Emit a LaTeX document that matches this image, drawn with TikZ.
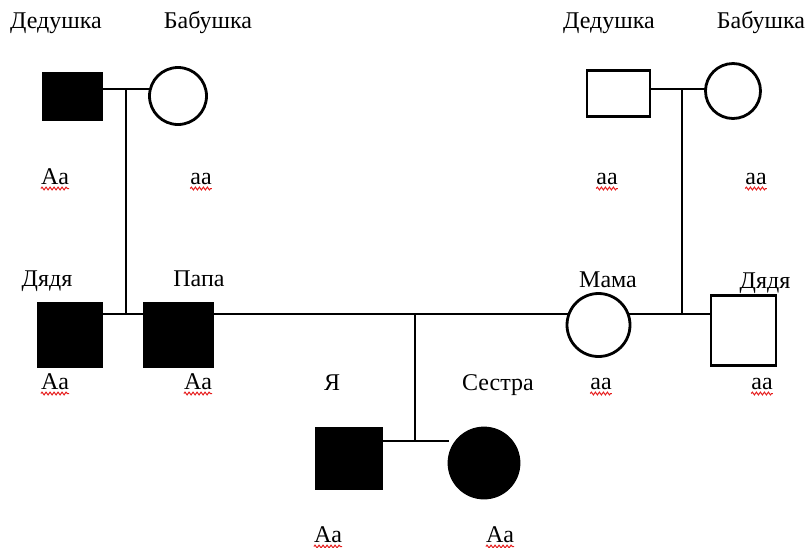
\documentclass[tikz,border=0pt]{standalone}
\usepackage{fontspec}
\setmainfont{Liberation Serif}
\usetikzlibrary{decorations.pathmorphing}
\definecolor{spellred}{RGB}{230,30,30}
\tikzset{
  person/.style={line width=2.8pt, inner sep=0pt, outer sep=0pt},
  male/.style={person, rectangle, draw=black},
  female/.style={person, circle, draw=black},
  affected/.style={fill=black},
  healthy/.style={fill=white},
  link/.style={line width=1.3pt, draw=black},
  lbl/.style={anchor=base, inner sep=0pt, font=\fontsize{24}{29}\selectfont},
  geno/.style={lbl},
  squiggle/.style={draw=spellred, line width=1pt,
    decorate, decoration={snake, segment length=4pt, amplitude=1.4pt}},
}
\newcommand{\wavyunder}[1]{%
  \draw[squiggle] ([yshift=-4.5pt]#1.base west) -- ([yshift=-4.5pt]#1.base east);}
\begin{document}
\begin{tikzpicture}[x=1pt, y=-1pt]
\useasboundingbox (0,0) rectangle (810,547);

% --- grandparents, father's side
\node[male, affected, minimum width=59pt, minimum height=47pt] (gpL) at (72.5,96.5) {};
\node[female, healthy, minimum size=57pt] (gmL) at (178,96) {};
% --- grandparents, mother's side
\node[male, healthy, minimum width=63pt, minimum height=46pt] (gpR) at (618.5,93.5) {};
\node[female, healthy, minimum size=55pt] (gmR) at (733,91) {};

% --- parents' generation
\node[male, affected, minimum width=64pt, minimum height=63pt] (uncleL) at (70,335) {};
\node[male, affected, minimum width=68pt, minimum height=63pt] (papa) at (178.5,335) {};
\node[female, healthy, minimum size=63pt] (mama) at (598.5,325) {};
\node[male, healthy, minimum width=65pt, minimum height=70pt] (uncleR) at (743.5,330.5) {};

% --- children
\node[male, affected, minimum width=66pt, minimum height=61pt] (me) at (349,458.5) {};
\node[female, affected, minimum size=70pt] (sister) at (484,463) {};

% --- marriage and sibship junctions
\coordinate (mL) at (126,89);
\coordinate (mR) at (682,89);
\coordinate (sibL) at (126,314);
\coordinate (sibR) at (682,314);
\coordinate (mPar) at (415,314);
\coordinate (kids) at (415,441);

% --- connectors
\draw[link] (gpL.east |- mL) -- (gmL.west |- mL);
\draw[link] (mL) -- (sibL);
\draw[link] (uncleL.east |- sibL) -- (papa.west |- sibL);
\draw[link] (gpR.east |- mR) -- (gmR.west |- mR);
\draw[link] (mR) -- (sibR);
\draw[link] (papa.east |- mPar) -- (mama.160 |- mPar);
\draw[link] (mama.20 |- sibR) -- (uncleR.west |- sibR);
\draw[link] (mPar) -- (kids);
\draw[link] (me.east |- kids) -- (sister.west |- kids);

% --- names
\node[lbl] (tGpL) at (56,28) {Дедушка};
\node[lbl] (tGmL) at (208,28) {Бабушка};
\node[lbl] (tGpR) at (609,28) {Дедушка};
\node[lbl] (tGmR) at (761,28) {Бабушка};
\node[lbl] (tUncleL) at (47,286) {Дядя};
\node[lbl] (tPapa) at (199,286) {Папа};
\node[lbl] (tMama) at (608,287) {Мама};
\node[lbl] (tUncleR) at (765,288) {Дядя};
\node[lbl] (tMe) at (332,390) {Я};
\node[lbl] (tSister) at (498,390) {Сестра};

% --- genotypes
\node[geno] (gGpL) at (55,184) {Aa};
\node[geno] (gGmL) at (201,184) {aa};
\node[geno] (gGpR) at (607,184) {aa};
\node[geno] (gGmR) at (756,184) {aa};
\node[geno] (gUncleL) at (55,389) {Aa};
\node[geno] (gPapa) at (198,389) {Aa};
\node[geno] (gMama) at (601,389) {aa};
\node[geno] (gUncleR) at (762,389) {aa};
\node[geno] (gMe) at (328,542) {Aa};
\node[geno] (gSister) at (500,542) {Aa};

\foreach \g in {gGpL,gGmL,gGpR,gGmR,gUncleL,gPapa,gMama,gUncleR,gMe,gSister}
  {\wavyunder{\g}}
\end{tikzpicture}
\end{document}
